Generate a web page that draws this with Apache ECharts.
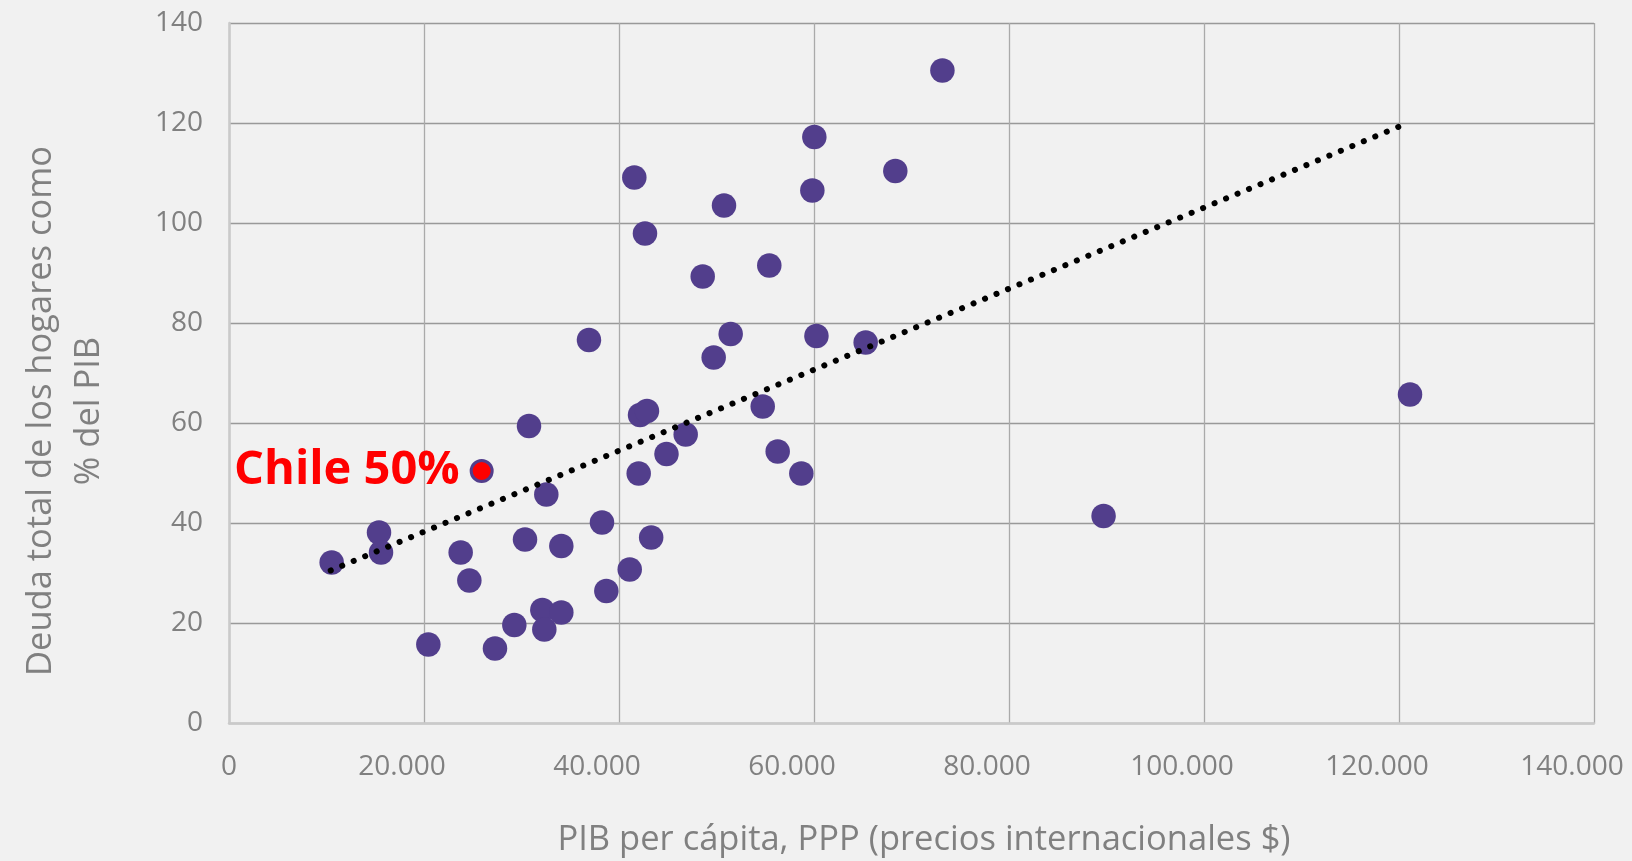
<!DOCTYPE html>
<html>
<head>
<meta charset="utf-8">
<script src="https://cdn.jsdelivr.net/npm/echarts@6/dist/echarts.min.js"></script>
<style>
  html, body { margin:0; padding:0; background:#F1F1F1; }
  #chart { width:1632px; height:861px; }
</style>
</head>
<body>
<div id="chart"></div>
<script>
// PIB per cápita (PPP) y deuda de hogares (% del PIB)
const gdp = [10530, 15385, 15590, 20445, 23760, 24650, 27280, 29265, 30360, 30770,
  32135, 32340, 32545, 34085, 34085, 36920, 38255, 38700, 41100, 41570,
  42020, 42155, 42665, 42870, 43300, 44870, 46840, 48585, 49710, 50770,
  51455, 54740, 55415, 56275, 58700, 59830, 60035, 60250, 65300, 68340,
  73170, 89700, 121130];
const debt = [32.1, 38.1, 34.1, 15.7, 34.1, 28.5, 14.9, 19.6, 36.7, 59.4,
  22.6, 18.7, 45.7, 22.1, 35.4, 76.6, 40.1, 26.4, 30.7, 109.1,
  49.9, 61.6, 97.9, 62.4, 37.1, 53.8, 57.7, 89.3, 73.1, 103.5,
  77.8, 63.3, 91.5, 54.3, 49.9, 106.5, 117.2, 77.4, 76.1, 110.4,
  130.5, 41.4, 65.7];

const chile = [25915, 50.4];
const chileLabel = 'Chile 50%';

// extremos de la línea de tendencia
const trendX = [10430, 120030];
const trendY = [30.5, 119.3];

const xTitle = 'PIB per cápita, PPP (precios internacionales $)';
const yTitle = 'Deuda total de los hogares como\n% del PIB';

const purple = '#523E8C';
const grey = '#808080';
const font = 'Open Sans';

function miles(v) {
  return String(v).replace(/\B(?=(\d{3})+(?!\d))/g, '.');
}

const chart = echarts.init(document.getElementById('chart'));
chart.setOption({
  backgroundColor: '#F1F1F1',
  animation: false,
  grid: {left: 229, right: 38, top: 23, bottom: 138},
  xAxis: {
    type: 'value', min: 0, max: 140000, interval: 20000,
    axisLine: {show: true, onZero: false, lineStyle: {color: '#CACACA', width: 2.5}},
    axisTick: {show: false},
    splitLine: {lineStyle: {color: '#AAAAAA', width: 1.3}},
    axisLabel: {
      margin: 30,
      formatter: v => v === 0 ? '{z|0}' : '{n|' + miles(v) + '}',
      rich: {
        z: {color: grey, fontSize: 28, fontFamily: font},
        n: {color: grey, fontSize: 28, fontFamily: font, padding: [0, 44, 0, 0]}
      }
    }
  },
  yAxis: {
    type: 'value', min: 0, max: 140, interval: 20,
    axisLine: {show: true, lineStyle: {color: '#CACACA', width: 2.5}},
    axisTick: {show: false},
    splitLine: {lineStyle: {color: '#999999', width: 1.3}},
    axisLabel: {color: grey, fontSize: 28, fontFamily: font, margin: 26}
  },
  graphic: [
    {type: 'text', x: 924, y: 840, style: {text: xTitle, fill: grey, fontSize: 34.5, fontFamily: font,
      textAlign: 'center', textVerticalAlign: 'middle'}},
    {type: 'text', x: 65, y: 411, rotation: Math.PI / 2, style: {text: yTitle, fill: grey, fontSize: 34.5,
      fontFamily: font, lineHeight: 48, textAlign: 'center', textVerticalAlign: 'middle'}}
  ],
  series: [
    {
      type: 'scatter', z: 2,
      symbolSize: 24.5,
      itemStyle: {color: purple, opacity: 1},
      data: gdp.map((g, i) => [g, debt[i]])
    },
    {
      type: 'line', z: 3, symbol: 'none',
      lineStyle: {color: '#000', width: 6, type: [0.1, 12.33], cap: 'round'},
      data: trendX.map((x, i) => [x, trendY[i]])
    },
    {
      type: 'scatter', z: 4,
      symbolSize: 21,
      itemStyle: {color: '#FF0000', borderColor: purple, borderWidth: 3, opacity: 1},
      label: {show: true, position: 'left', distance: 10, formatter: chileLabel,
        color: '#FF0000', fontSize: 47, fontWeight: 'bold', fontFamily: font},
      data: [chile]
    }
  ]
});
</script>
</body>
</html>
